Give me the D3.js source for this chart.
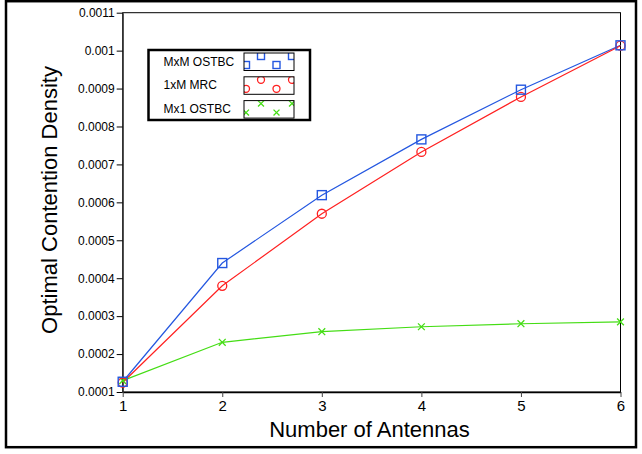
<!DOCTYPE html>
<html><head><meta charset="utf-8">
<script src="https://cdn.jsdelivr.net/npm/d3@7"></script>
<style>html,body{margin:0;padding:0;background:#fff;}svg{display:block;}</style>
</head><body>
<script>
const antennas = [1, 2, 3, 4, 5, 6];
const mxmOstbc = [0.000127, 0.000440, 0.000619, 0.000766, 0.000897, 0.001014];
const mrc1xM   = [0.000125, 0.000380, 0.000570, 0.000733, 0.000878, 0.001013];
const mx1Ostbc = [0.000130, 0.000231, 0.000259, 0.000272, 0.000280, 0.000285];
const seriesNames = ["MxM OSTBC", "1xM MRC", "Mx1 OSTBC"];
const yTickValues = [0.0001,0.0002,0.0003,0.0004,0.0005,0.0006,0.0007,0.0008,0.0009,0.001,0.0011];
const yTickLabels = ["0.0001","0.0002","0.0003","0.0004","0.0005","0.0006","0.0007","0.0008","0.0009","0.001","0.0011"];
const xTitle = "Number of Antennas";
const yTitle = "Optimal Contention Density";

const W = 642, H = 454;
const L = 122.7, R = 620.5, T = 12.7, B = 392;
const colors = ["#2457e0", "#ff2020", "#44dd14"];
const shapes = ["square", "circle", "x"];
const seriesData = [mxmOstbc, mrc1xM, mx1Ostbc];
const font = "'Liberation Sans', Arial, Helvetica, sans-serif";

const svg = d3.select("body").append("svg").attr("width", W).attr("height", H);
svg.append("rect").attr("width", W).attr("height", H).attr("fill", "#fff");
// outer border
svg.append("rect").attr("x", 6).attr("y", 1.2).attr("width", 630).attr("height", 446)
  .attr("fill", "none").attr("stroke", "#000").attr("stroke-width", 2.5);

const x = d3.scaleLinear().domain([1, 6]).range([L, R]);
const y = d3.scaleLinear().domain([0.0001, 0.0011]).range([B, T]);

// frame
svg.append("rect").attr("x", L).attr("y", T).attr("width", R - L).attr("height", B - T)
  .attr("fill", "none").attr("stroke", "#000").attr("stroke-width", 1);

const yAxis = d3.axisLeft(y).tickValues(yTickValues)
  .tickFormat((d, i) => yTickLabels[i]).tickSize(6).tickSizeOuter(0).tickPadding(2);
const gy = svg.append("g").attr("transform", `translate(${L},0)`).call(yAxis);
gy.select(".domain").attr("stroke", "#333").attr("stroke-width", 1.2);
gy.selectAll(".tick line").attr("stroke", "#000");
gy.selectAll(".tick text").attr("font-family", font).attr("font-size", 12).attr("fill", "#000");

const xAxis = d3.axisBottom(x).tickValues(antennas).tickFormat(d3.format("d"))
  .tickSize(5).tickSizeOuter(0).tickPadding(3);
const gx = svg.append("g").attr("transform", `translate(0,${B})`).call(xAxis);
gx.select(".domain").attr("stroke", "#000").attr("stroke-width", 1.6);
gx.selectAll(".tick line").attr("stroke", "#444");
gx.selectAll(".tick text").attr("font-family", font).attr("font-size", 15).attr("fill", "#000");

// titles
svg.append("text").attr("x", 369.5).attr("y", 437).attr("text-anchor", "middle")
  .attr("font-family", font).attr("font-size", 22).text(xTitle);
svg.append("text").attr("transform", "translate(57,200) rotate(-90)").attr("text-anchor", "middle")
  .attr("font-family", font).attr("font-size", 22).text(yTitle);

function marker(g, shape, color, cx, cy, s) {
  if (shape === "square") {
    g.append("rect").attr("x", cx - s / 2).attr("y", cy - s / 2).attr("width", s).attr("height", s)
      .attr("fill", "none").attr("stroke", color).attr("stroke-width", 1.4);
  } else if (shape === "circle") {
    g.append("circle").attr("cx", cx).attr("cy", cy).attr("r", s / 2)
      .attr("fill", "none").attr("stroke", color).attr("stroke-width", 1.3);
  } else {
    const h = s / 2 * 0.85;
    g.append("path").attr("d", `M${cx - h},${cy - h}L${cx + h},${cy + h}M${cx - h},${cy + h}L${cx + h},${cy - h}`)
      .attr("stroke", color).attr("stroke-width", 1.3).attr("fill", "none");
  }
}

const line = d3.line().x((d, i) => x(antennas[i])).y(d => y(d));
const plot = svg.append("g");
seriesData.forEach((vals, k) => {
  plot.append("path").datum(vals).attr("d", line).attr("fill", "none")
    .attr("stroke", colors[k]).attr("stroke-width", 1.2);
});
[2, 1, 0].forEach(k => {
  seriesData[k].forEach((v, i) => {
    marker(plot, shapes[k], colors[k], x(antennas[i]), y(v), k === 0 ? 9 : (k === 1 ? 9 : 8));
  });
});

// legend
const lg = svg.append("g");
lg.append("rect").attr("x", 148.5).attr("y", 50).attr("width", 161.5).attr("height", 70)
  .attr("fill", "#fff").attr("stroke", "#000").attr("stroke-width", 2.5);
const defs = svg.append("defs");
seriesNames.forEach((name, k) => {
  const by = 53 + k * 23.8;
  lg.append("text").attr("x", 163.5).attr("y", by + 12.5).attr("font-family", font)
    .attr("font-size", 12).text(name);
  defs.append("clipPath").attr("id", "clip" + k).append("rect")
    .attr("x", 244).attr("y", by).attr("width", 50).attr("height", 17.5);
  const sg = lg.append("g").attr("clip-path", `url(#clip${k})`);
  [[246, 12], [261, 3], [276.5, 12], [292, 3]].forEach(p => marker(sg, shapes[k], colors[k], p[0], by + p[1], 7));
  lg.append("rect").attr("x", 244).attr("y", by).attr("width", 50).attr("height", 17.5)
    .attr("fill", "none").attr("stroke", "#000").attr("stroke-width", 1);
});
</script>
</body></html>
